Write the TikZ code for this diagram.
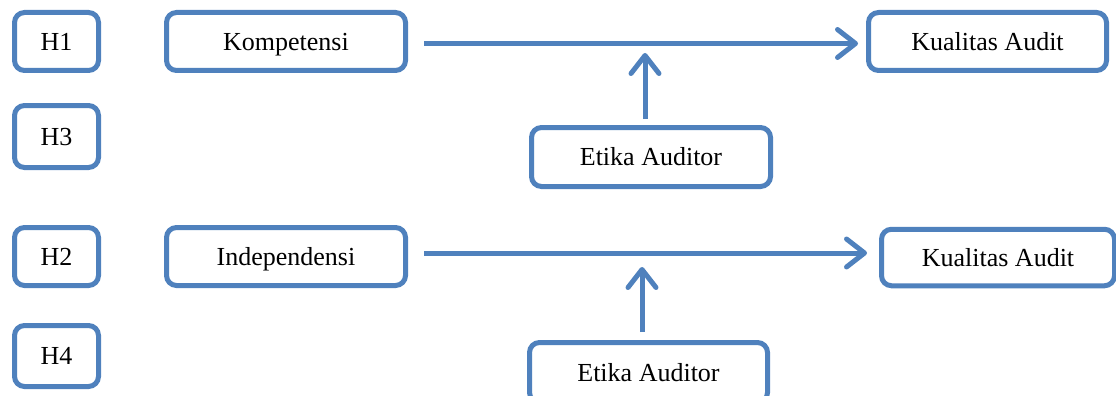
\documentclass[tikz,border=0pt]{standalone}
\usepackage{fontspec}
\setmainfont{Liberation Serif}
\usetikzlibrary{arrows.meta}
\definecolor{ofblue}{HTML}{4F81BD}
\begin{document}
\begin{tikzpicture}[x=1pt,y=1pt,
  box/.style={draw=ofblue, line width=5pt, rounded corners=10pt, fill=white,
    inner sep=0pt, text height=17.2pt, text depth=0pt,
    font=\fontsize{26}{30}\selectfont, text=black},
  arr/.style={draw=ofblue, line width=5pt,
    -{Straight Barb[length=18pt,width=28pt,line cap=round,line join=round]}}]
\useasboundingbox (0,0) rectangle (1116,-396);
\clip (0,0) rectangle (1116,-396);
% hypothesis labels
\node[box, minimum width=84pt, minimum height=58pt] (h1) at (56.5,-41.5) {H1};
\node[box, minimum width=84pt, minimum height=62pt] (h3) at (56.5,-136.5) {H3};
\node[box, minimum width=84pt, minimum height=58pt] (h2) at (56.5,-256.5) {H2};
\node[box, minimum width=84pt, minimum height=61pt] (h4) at (56.5,-356) {H4};
% first model
\node[box, minimum width=239pt, minimum height=58pt] (komp) at (286,-41.5) {Kompetensi};
\node[box, minimum width=238pt, minimum height=58pt] (kual1) at (987.5,-41.5) {Kualitas Audit};
\node[box, minimum width=239pt, minimum height=59pt] (et1) at (651,-157) {Etika Auditor};
% second model
\node[box, minimum width=239pt, minimum height=58pt] (ind) at (286,-256.5) {Independensi};
\node[box, minimum width=233pt, minimum height=56.5pt] (kual2) at (998,-257.5) {Kualitas Audit};
\node[box, minimum width=238pt, minimum height=60pt] (et2) at (648.5,-372.5) {Etika Auditor};
% connectors
\draw[arr] ([shift={(16,-2)}]komp.east) -- ([shift={(-8,-2)}]kual1.west);
\coordinate (t1) at (645,-53);
\draw[arr] ([shift={(-6,6)}]et1.north) -- (t1);
\draw[arr] ([shift={(16,3.5)}]ind.east) -- ([shift={(-12,4.5)}]kual2.west);
\coordinate (t2) at (642,-267);
\draw[arr] ([shift={(-6.5,8)}]et2.north) -- (t2);
\end{tikzpicture}
\end{document}
